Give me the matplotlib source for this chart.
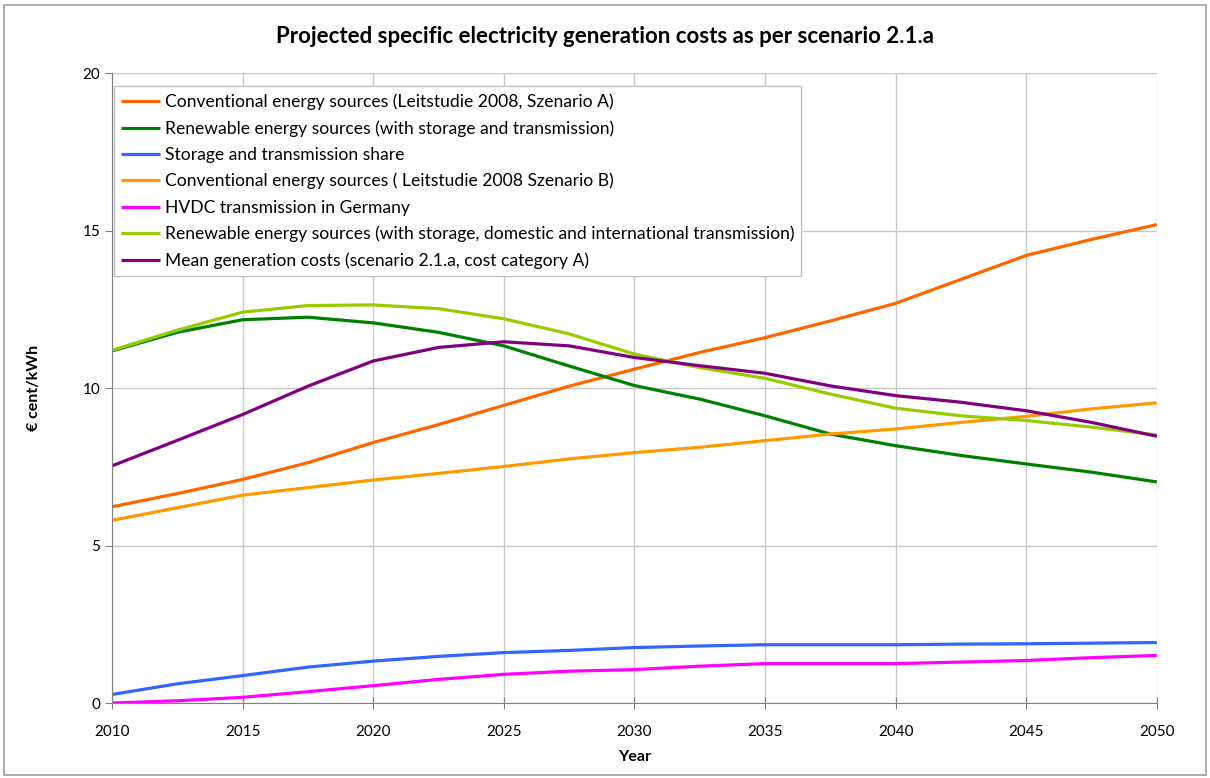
import numpy as np
import matplotlib.pyplot as plt
from matplotlib.patches import Rectangle

plt.rcParams['font.family'] = ['Lato', 'DejaVu Sans']

# Years and values (every 2.5 years)
years = [2010, 2012.5, 2015, 2017.5, 2020, 2022.5, 2025, 2027.5, 2030,
         2032.5, 2035, 2037.5, 2040, 2042.5, 2045, 2047.5, 2050]

conv_a = [6.23, 6.65, 7.10, 7.63, 8.27, 8.84, 9.45, 10.06, 10.6,
          11.13, 11.6, 12.13, 12.69, 13.45, 14.21, 14.72, 15.19]
renew = [11.18, 11.77, 12.17, 12.25, 12.07, 11.77, 11.34, 10.70, 10.08,
         9.65, 9.12, 8.54, 8.17, 7.86, 7.59, 7.33, 7.02]
storage = [0.27, 0.61, 0.87, 1.14, 1.33, 1.48, 1.60, 1.67, 1.76,
           1.81, 1.85, 1.85, 1.85, 1.87, 1.88, 1.90, 1.92]
conv_b = [5.80, 6.20, 6.60, 6.84, 7.08, 7.29, 7.51, 7.75, 7.95,
          8.12, 8.33, 8.54, 8.70, 8.91, 9.10, 9.34, 9.53]
hvdc = [0.0, 0.07, 0.18, 0.36, 0.55, 0.75, 0.91, 1.01, 1.06,
        1.17, 1.25, 1.25, 1.25, 1.30, 1.35, 1.44, 1.51]
renew_int = [11.20, 11.84, 12.41, 12.62, 12.64, 12.52, 12.20, 11.72, 11.08,
             10.65, 10.31, 9.81, 9.36, 9.12, 8.97, 8.76, 8.51]
mean_cost = [7.53, 8.34, 9.16, 10.06, 10.86, 11.29, 11.47, 11.34, 10.97,
             10.71, 10.47, 10.07, 9.76, 9.55, 9.28, 8.91, 8.47]

series = [
    ("Conventional energy sources (Leitstudie 2008, Szenario A)", conv_a, "#FF6600"),
    ("Renewable energy sources (with storage and transmission)", renew, "#008000"),
    ("Storage and transmission share", storage, "#3366FF"),
    ("Conventional energy sources ( Leitstudie 2008 Szenario B)", conv_b, "#FF9900"),
    ("HVDC transmission in Germany", hvdc, "#FF00FF"),
    ("Renewable energy sources (with storage, domestic and international transmission)", renew_int, "#99CC00"),
    ("Mean generation costs (scenario 2.1.a, cost category A)", mean_cost, "#800080"),
]

fig = plt.figure(figsize=(12.1, 7.78), dpi=100)
ax = fig.add_axes([0.0926, 0.0964, 0.8634, 0.8096])

# chart area border
fig.patches.append(Rectangle((0.003, 0.004), 0.994, 0.99, transform=fig.transFigure,
                             fill=False, edgecolor='#a0a0a0', linewidth=1.2))

for label, vals, color in series:
    ax.plot(years, vals, color=color, linewidth=2.3, label=label,
            solid_capstyle='butt')

ax.set_xlim(2010, 2050)
ax.set_ylim(0, 20)
ax.set_xticks(range(2010, 2051, 5))
ax.set_yticks(range(0, 21, 5))
ax.grid(True, color='#c8c8c8', linewidth=1)
ax.set_axisbelow(True)
for s in ['top', 'right']:
    ax.spines[s].set_visible(False)
for s in ['left', 'bottom']:
    ax.spines[s].set_color('#808080')
ax.tick_params(axis='both', direction='out', length=5, color='#808080',
               labelsize=11, labelcolor='black')
ax.tick_params(axis='x', direction='inout', length=8, pad=12)

ax.set_xlabel('Year', fontsize=11.5, fontweight='bold', labelpad=8)
ax.set_ylabel('€ cent/kWh', fontsize=11.5, fontweight='bold', labelpad=30)
fig.suptitle('Projected specific electricity generation costs as per scenario 2.1.a',
             fontsize=16, fontweight='bold', y=0.967)

leg = ax.legend(loc='upper left', bbox_to_anchor=(0.002, 0.979), fontsize=12.6,
                handlelength=2.2, handletextpad=0.3, labelspacing=0.58,
                borderpad=0.4, borderaxespad=0.0, fancybox=False,
                framealpha=1, edgecolor='#c0c0c0')
leg.get_frame().set_linewidth(1)

fig.savefig('out.png', dpi=100)
